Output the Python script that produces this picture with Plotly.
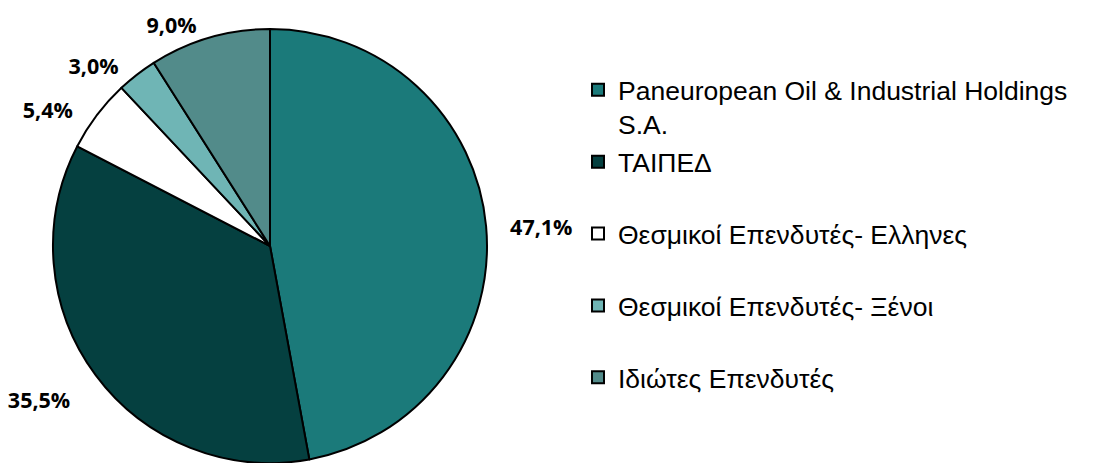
import plotly.graph_objects as go

labels = [
    "Paneuropean Oil & Industrial Holdings<br>S.A.",
    "ΤΑΙΠΕΔ<br> ",
    "Θεσμικοί Επενδυτές- Ελληνες<br> ",
    "Θεσμικοί Επενδυτές- Ξένοι<br> ",
    "Ιδιώτες Επενδυτές",
]
values = [47.1, 35.5, 5.4, 3.0, 9.0]
colors = ["#1B7A7A", "#054040", "#FFFFFF", "#6FB5B5", "#528B8A"]

# label text = the value; non-breaking-space padding / blank line only push it off the pie
NB = "\u00a0"
lead = [3, 0, 0, 0, 0]
trail = [0, 2, 3, 2, 1]
line_before = [False, True, False, False, False]


def label_text(v, a, b, pre):
    s = NB * a + f"{v:.1f}".replace(".", ",") + "%" + NB * b
    if pre:
        s = NB + "<br>" + s
    return s


texts = [label_text(*t) for t in zip(values, lead, trail, line_before)]

W, H = 1094, 463

fig = go.Figure(go.Pie(
    labels=labels,
    values=values,
    text=texts,
    sort=False,
    direction="clockwise",
    rotation=0,
    marker=dict(colors=colors, line=dict(color="black", width=2)),
    textposition="outside",
    textinfo="text",
    textfont=dict(family="Open Sans", size=21.5, color="black", weight="bold"),
    domain=dict(x=[53 / W, 487 / W], y=[0, 1 - 29 / H]),
    hoverinfo="label+percent",
))

fig.update_layout(
    width=W, height=H,
    margin=dict(l=0, r=0, t=0, b=0, autoexpand=False),
    paper_bgcolor="white",
    plot_bgcolor="white",
    showlegend=True,
    legend=dict(
        x=578 / W, y=1 - 66 / H, xanchor="left", yanchor="top",
        font=dict(family="Liberation Sans, Arial", size=26.5, color="black"),
        valign="top",
        bgcolor="rgba(0,0,0,0)",
        traceorder="normal",
    ),
)

fig.write_html("out.html", config={"displayModeBar": False},
               post_script="document.body.style.margin='0';")
